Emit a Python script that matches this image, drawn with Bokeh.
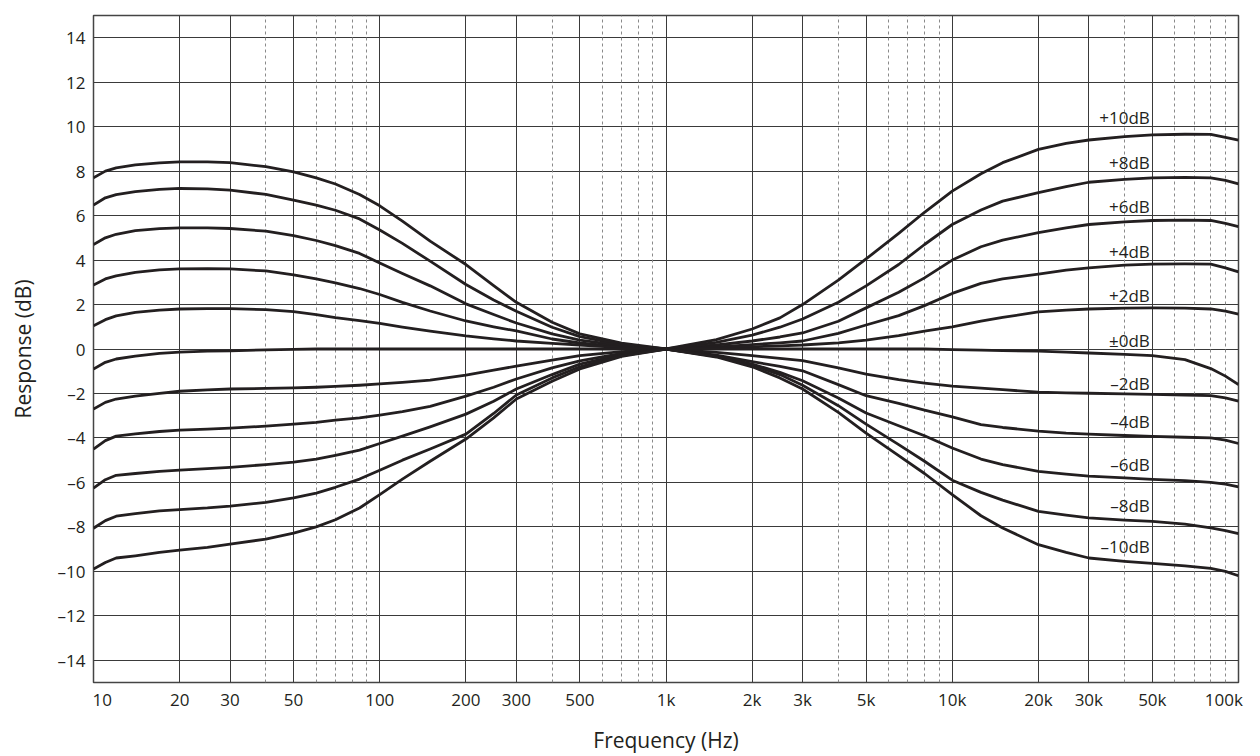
from bokeh.plotting import figure
from bokeh.models import FixedTicker, Grid, ColumnDataSource
from bokeh.core.properties import value
from bokeh.embed import file_html
from bokeh.resources import INLINE

# ---------------- data ----------------
freqs = [10, 11, 12, 14, 17, 20, 25, 30, 40, 50, 60, 70, 85, 100, 120, 150, 200, 250, 300, 400,
         500, 700, 1000, 1500, 2000, 2500, 3000, 4000, 5000, 6500, 8000, 10000, 12600, 15000,
         20000, 25000, 30000, 40000, 50000, 65000, 80000, 90000, 100000]

resp_p10 = [7.7, 8.0, 8.15, 8.28, 8.37, 8.42, 8.42, 8.38, 8.2, 7.97, 7.7, 7.42, 6.95, 6.44, 5.75,
            4.85, 3.8, 2.85, 2.1, 1.2, 0.68, 0.26, 0.0, 0.42, 0.9, 1.4, 2.0, 3.1, 4.05, 5.2, 6.15,
            7.1, 7.88, 8.38, 8.98, 9.25, 9.4, 9.55, 9.63, 9.66, 9.65, 9.52, 9.4]
resp_p8 = [6.47, 6.8, 6.94, 7.08, 7.18, 7.22, 7.2, 7.15, 6.95, 6.7, 6.47, 6.24, 5.85, 5.35, 4.75,
           3.95, 2.9, 2.2, 1.7, 0.98, 0.56, 0.2, 0.0, 0.3, 0.62, 0.98, 1.35, 2.1, 2.84, 3.8, 4.7,
           5.6, 6.25, 6.65, 7.03, 7.3, 7.5, 7.63, 7.7, 7.72, 7.7, 7.58, 7.43]
resp_p6 = [4.7, 5.0, 5.16, 5.32, 5.41, 5.45, 5.45, 5.42, 5.3, 5.1, 4.88, 4.65, 4.3, 3.87, 3.4,
           2.84, 2.03, 1.55, 1.17, 0.68, 0.4, 0.15, 0.0, 0.18, 0.36, 0.54, 0.72, 1.25, 1.85, 2.55,
           3.2, 4.0, 4.6, 4.9, 5.23, 5.45, 5.6, 5.72, 5.78, 5.8, 5.78, 5.65, 5.5]
resp_p4 = [2.88, 3.15, 3.29, 3.45, 3.56, 3.6, 3.61, 3.6, 3.51, 3.33, 3.15, 2.97, 2.72, 2.45, 2.1,
           1.71, 1.26, 1.0, 0.81, 0.45, 0.27, 0.1, 0.0, 0.1, 0.2, 0.28, 0.36, 0.7, 1.08, 1.5, 1.95,
           2.5, 2.95, 3.15, 3.37, 3.55, 3.65, 3.77, 3.82, 3.83, 3.82, 3.65, 3.47]
resp_p2 = [1.04, 1.32, 1.49, 1.65, 1.75, 1.8, 1.82, 1.82, 1.77, 1.68, 1.55, 1.41, 1.28, 1.15, 0.98,
           0.8, 0.59, 0.46, 0.36, 0.25, 0.18, 0.06, 0.0, 0.05, 0.1, 0.14, 0.18, 0.28, 0.4, 0.6, 0.8,
           1.0, 1.25, 1.42, 1.67, 1.75, 1.8, 1.84, 1.85, 1.84, 1.8, 1.7, 1.57]
resp_0 = [-0.9, -0.6, -0.45, -0.32, -0.2, -0.14, -0.1, -0.08, -0.04, -0.02, 0.0, 0.0, 0.0, 0.0, 0.0,
          0.0, 0.0, 0.0, 0.0, 0.0, 0.0, 0.0, 0.0, 0.0, 0.0, 0.0, 0.0, 0.0, 0.0, 0.0, 0.0,
          -0.03, -0.05, -0.07, -0.1, -0.14, -0.18, -0.24, -0.3, -0.48, -0.88, -1.22, -1.6]
resp_m2 = [-2.7, -2.4, -2.25, -2.12, -2.0, -1.9, -1.84, -1.8, -1.77, -1.75, -1.72, -1.68, -1.63, -1.57, -1.5,
           -1.4, -1.17, -0.95, -0.77, -0.5, -0.3, -0.12, 0.0, -0.15, -0.3, -0.42, -0.52, -0.85, -1.13, -1.38,
           -1.53, -1.67, -1.76, -1.83, -1.94, -1.97, -1.99, -2.02, -2.04, -2.07, -2.1, -2.2, -2.34]
resp_m4 = [-4.5, -4.12, -3.92, -3.82, -3.71, -3.65, -3.6, -3.56, -3.47, -3.38, -3.3, -3.2, -3.1, -2.97, -2.82,
           -2.58, -2.12, -1.72, -1.35, -0.85, -0.53, -0.2, 0.0, -0.28, -0.57, -0.78, -0.98, -1.6, -2.1, -2.45,
           -2.75, -3.05, -3.4, -3.53, -3.69, -3.78, -3.83, -3.89, -3.93, -3.97, -4.0, -4.1, -4.25]
resp_m6 = [-6.26, -5.88, -5.68, -5.6, -5.5, -5.45, -5.38, -5.32, -5.2, -5.09, -4.95, -4.78, -4.55, -4.25, -3.92,
           -3.5, -2.93, -2.35, -1.8, -1.15, -0.68, -0.25, 0.0, -0.32, -0.68, -1.05, -1.43, -2.2, -2.88, -3.45,
           -3.9, -4.45, -4.95, -5.2, -5.5, -5.63, -5.72, -5.8, -5.86, -5.92, -6.0, -6.08, -6.2]
resp_m8 = [-8.06, -7.72, -7.52, -7.4, -7.28, -7.22, -7.15, -7.07, -6.9, -6.7, -6.48, -6.22, -5.85, -5.45, -5.0,
           -4.5, -3.83, -2.9, -2.07, -1.3, -0.8, -0.3, 0.0, -0.33, -0.72, -1.15, -1.63, -2.55, -3.38, -4.3,
           -5.05, -5.9, -6.45, -6.8, -7.3, -7.47, -7.6, -7.7, -7.75, -7.88, -8.05, -8.17, -8.3]
resp_m10 = [-9.9, -9.6, -9.4, -9.3, -9.15, -9.05, -8.92, -8.78, -8.55, -8.28, -8.0, -7.68, -7.15, -6.55, -5.85,
            -5.05, -4.05, -3.1, -2.25, -1.45, -0.9, -0.33, 0.0, -0.36, -0.8, -1.3, -1.8, -2.85, -3.78, -4.8,
            -5.6, -6.55, -7.5, -8.05, -8.8, -9.15, -9.4, -9.55, -9.64, -9.75, -9.87, -10.0, -10.2]

curve_names = ["+10dB", "+8dB", "+6dB", "+4dB", "+2dB", "±0dB",
               "–2dB", "–4dB", "–6dB", "–8dB", "–10dB"]
curve_label_y = [10.4, 8.38, 6.4, 4.37, 2.39, 0.4, -1.53, -3.24, -5.18, -7.03, -8.87]
curve_label_x = 49000

x_ticks = [10, 20, 30, 50, 100, 200, 300, 500, 1000, 2000, 3000, 5000,
           10000, 20000, 30000, 50000, 100000]
x_tick_labels = ["10", "20", "30", "50", "100", "200", "300", "500", "1k", "2k", "3k", "5k",
                 "10k", "20k", "30k", "50k", "100k"]
x_minor = [40, 60, 70, 80, 90, 400, 600, 700, 800, 900, 4000, 6000, 7000, 8000, 9000,
           40000, 60000, 70000, 80000, 90000]
y_ticks = [-14, -12, -10, -8, -6, -4, -2, 0, 2, 4, 6, 8, 10, 12, 14]
y_tick_labels = ["–14", "–12", "–10", "–8", "–6", "–4", "–2", "0", "2", "4", "6", "8", "10", "12", "14"]

series = [resp_p10, resp_p8, resp_p6, resp_p4, resp_p2, resp_0,
          resp_m2, resp_m4, resp_m6, resp_m8, resp_m10]

# ---------------- figure ----------------
FONT = "Open Sans"
INK = "#231f20"
NB = "\u00a0"

p = figure(width=1260, height=756, x_axis_type="log",
           x_range=(10, 100000), y_range=(-15, 15),
           output_backend="svg", toolbar_location=None,
           min_border_left=93, min_border_right=22,
           min_border_top=15, min_border_bottom=74)
p.background_fill_color = "white"
p.border_fill_color = "white"
p.outline_line_color = "#444444"
p.outline_line_width = 1.5

# major grid
p.xgrid.ticker = FixedTicker(ticks=x_ticks)
p.xgrid.grid_line_color = "#3a3a3a"
p.xgrid.grid_line_width = 1
p.ygrid.ticker = FixedTicker(ticks=y_ticks)
p.ygrid.grid_line_color = "#3a3a3a"
p.ygrid.grid_line_width = 1

# minor dashed grid
minor_grid = Grid(dimension=0, ticker=FixedTicker(ticks=x_minor),
                  grid_line_color="#8a8a8a", grid_line_dash="3 3", grid_line_width=1)
p.add_layout(minor_grid, "center")

# axes
x_label_map = {float(t): l for t, l in zip(x_ticks, x_tick_labels)}
# first / last labels sit inside the frame, as in the original
x_label_map[float(x_ticks[0])] = NB * 4 + x_tick_labels[0]
x_label_map[float(x_ticks[-1])] = x_tick_labels[-1] + NB * 4

xa = p.xaxis[0]
xa.ticker = FixedTicker(ticks=x_ticks)
xa.major_label_overrides = x_label_map
xa.axis_label = "Frequency (Hz)"
ya = p.yaxis[0]
ya.ticker = FixedTicker(ticks=y_ticks)
ya.major_label_overrides = {float(t): l for t, l in zip(y_ticks, y_tick_labels)}
ya.axis_label = "Response (dB)"

for ax in (xa, ya):
    ax.axis_line_color = None
    ax.major_tick_line_color = None
    ax.minor_tick_line_color = None
    ax.major_tick_out = 0
    ax.major_tick_in = 0
    ax.minor_tick_out = 0
    ax.major_label_text_font = FONT
    ax.major_label_text_font_size = "17px"
    ax.major_label_text_color = INK
    ax.axis_label_text_font = FONT
    ax.axis_label_text_font_size = "21px"
    ax.axis_label_text_font_style = "normal"
    ax.axis_label_text_color = INK
xa.major_label_standoff = 5
xa.axis_label_standoff = 12
ya.major_label_standoff = 8
ya.axis_label_standoff = 18

# curves
for ys in series:
    p.line(freqs, ys, line_color=INK, line_width=2.8, line_join="round")

# curve labels
src = ColumnDataSource(dict(x=[curve_label_x] * len(curve_names), y=curve_label_y, t=curve_names))
p.text(x="x", y="y", text="t", source=src, text_align="right", text_baseline="middle",
       text_font=value(FONT), text_font_size="17px", text_color=INK)

open("out.html", "w").write(file_html(p, INLINE))
